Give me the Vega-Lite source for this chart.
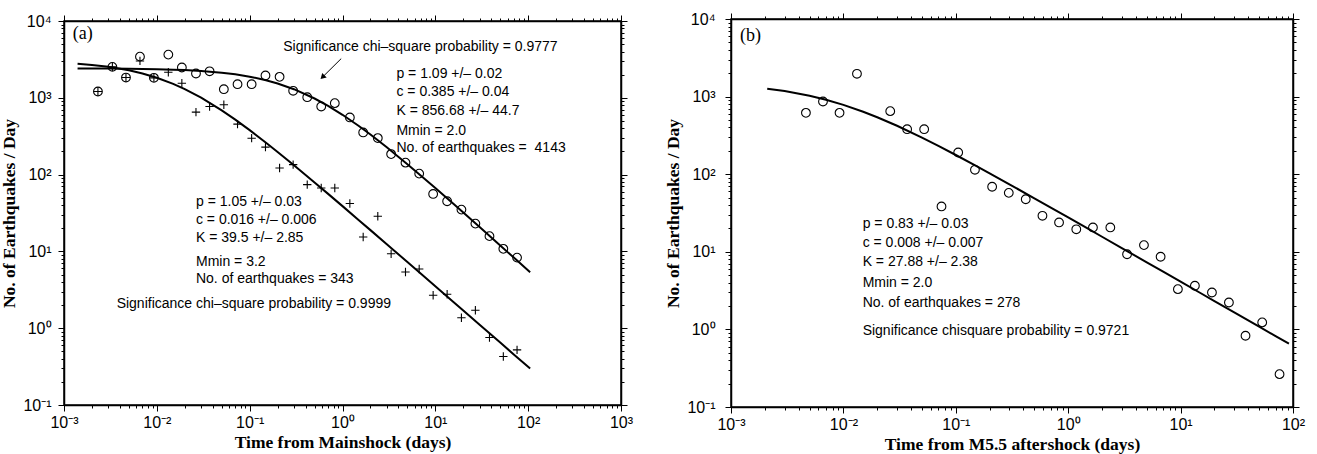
{
  "$schema": "https://vega.github.io/schema/vega-lite/v6.json",
  "padding": {"left": 0, "top": 10, "right": 0, "bottom": 0},
  "background": "white",
  "spacing": 110,
  "bounds": "flush",
  "center": true,
  "config": {
    "view": {"stroke": "black", "strokeWidth": 1.5},
    "axis": {
      "grid": false,
      "domainColor": "black",
      "domainWidth": 1.5,
      "tickColor": "black",
      "tickWidth": 1,
      "labelFont": "Liberation Sans",
      "labelFontSize": 16,
      "labelColor": "black",
      "labelOverlap": false,
      "labelFlush": false,
      "titleFont": "Liberation Serif",
      "titleFontWeight": "bold",
      "titleFontSize": 17.5,
      "titleColor": "black"
    }
  },
  "datasets": {
    "m20": [{"t":0.00232,"n":1208},{"t":0.00332,"n":2529},{"t":0.00465,"n":1836},{"t":0.00658,"n":3436},{"t":0.0093,"n":1820},{"t":0.0133,"n":3650},{"t":0.0186,"n":2478},{"t":0.0264,"n":2070},{"t":0.037,"n":2213},{"t":0.0527,"n":1294},{"t":0.074,"n":1503},{"t":0.105,"n":1503},{"t":0.148,"n":1950},{"t":0.21,"n":1875},{"t":0.294,"n":1233},{"t":0.417,"n":1018},{"t":0.59,"n":771},{"t":0.826,"n":851},{"t":1.2,"n":555},{"t":1.67,"n":354},{"t":2.4,"n":299},{"t":3.34,"n":185},{"t":4.77,"n":143},{"t":6.7,"n":103},{"t":9.47,"n":56},{"t":13.4,"n":45},{"t":19.1,"n":35},{"t":27,"n":23},{"t":38.3,"n":15.8},{"t":54,"n":10.8},{"t":75.9,"n":8.3}],
    "m32": [{"t":0.00232,"n":1208},{"t":0.00332,"n":2529},{"t":0.00465,"n":1836},{"t":0.00658,"n":3020},{"t":0.0093,"n":1820},{"t":0.0133,"n":2153},{"t":0.0186,"n":1549},{"t":0.0264,"n":650},{"t":0.037,"n":771},{"t":0.0527,"n":811},{"t":0.074,"n":454},{"t":0.105,"n":298},{"t":0.148,"n":228},{"t":0.21,"n":122},{"t":0.294,"n":135},{"t":0.417,"n":74},{"t":0.59,"n":67},{"t":0.826,"n":67},{"t":1.2,"n":42},{"t":1.67,"n":15.4},{"t":2.4,"n":28.7},{"t":3.34,"n":9.3},{"t":4.77,"n":5.4},{"t":6.7,"n":5.9},{"t":9.47,"n":2.69},{"t":13.4,"n":2.77},{"t":19.1,"n":1.37},{"t":27,"n":1.71},{"t":38.3,"n":0.755},{"t":54,"n":0.428},{"t":75.9,"n":0.522}],
    "m55": [{"t":0.00464,"n":618},{"t":0.00658,"n":865},{"t":0.00924,"n":618},{"t":0.0132,"n":1967},{"t":0.0261,"n":649},{"t":0.0369,"n":380},{"t":0.0523,"n":380},{"t":0.0746,"n":38.4},{"t":0.105,"n":190.5},{"t":0.148,"n":114},{"t":0.2105,"n":68.9},{"t":0.296,"n":57.5},{"t":0.419,"n":47.6},{"t":0.59,"n":29.1},{"t":0.829,"n":23.9},{"t":1.18,"n":19.5},{"t":1.66,"n":20.6},{"t":2.37,"n":20.6},{"t":3.34,"n":9.3},{"t":4.72,"n":12.2},{"t":6.64,"n":8.63},{"t":9.46,"n":3.3},{"t":13.4,"n":3.65},{"t":19,"n":2.99},{"t":26.9,"n":2.22},{"t":37.8,"n":0.828},{"t":53.2,"n":1.23},{"t":75.9,"n":0.265}],
    "fitA": [{"t":0.0014,"n":2413},{"t":0.002,"n":2411},{"t":0.003,"n":2404},{"t":0.005,"n":2391},{"t":0.007,"n":2378},{"t":0.01,"n":2358},{"t":0.015,"n":2326},{"t":0.02,"n":2295},{"t":0.03,"n":2234},{"t":0.05,"n":2123},{"t":0.07,"n":2021},{"t":0.1,"n":1885},{"t":0.15,"n":1694},{"t":0.2,"n":1537},{"t":0.3,"n":1294},{"t":0.5,"n":979},{"t":0.7,"n":784},{"t":1,"n":600.7},{"t":1.5,"n":429.3},{"t":2,"n":332.1},{"t":3,"n":226.8},{"t":5,"n":136.7},{"t":7,"n":96.9},{"t":10,"n":66.83},{"t":15,"n":43.54},{"t":20,"n":32.04},{"t":30,"n":20.73},{"t":50,"n":11.95},{"t":70,"n":8.3},{"t":105,"n":5.34}],
    "fitB": [{"t":0.0014,"n":2780},{"t":0.002,"n":2683},{"t":0.003,"n":2535},{"t":0.005,"n":2282},{"t":0.007,"n":2074},{"t":0.01,"n":1823},{"t":0.015,"n":1516},{"t":0.02,"n":1296},{"t":0.03,"n":1002},{"t":0.05,"n":685.7},{"t":0.07,"n":519.2},{"t":0.1,"n":379.2},{"t":0.15,"n":260.3},{"t":0.2,"n":197.4},{"t":0.3,"n":132.4},{"t":0.5,"n":79.1},{"t":0.7,"n":56.1},{"t":1,"n":38.85},{"t":1.5,"n":25.52},{"t":2,"n":18.92},{"t":3,"n":12.4},{"t":5,"n":7.265},{"t":7,"n":5.107},{"t":10,"n":3.514},{"t":15,"n":2.297},{"t":20,"n":1.699},{"t":30,"n":1.11},{"t":50,"n":0.65},{"t":70,"n":0.456},{"t":105,"n":0.298}],
    "fitC": [{"t":0.0021,"n":1264},{"t":0.003,"n":1177},{"t":0.005,"n":1025},{"t":0.007,"n":910},{"t":0.01,"n":782},{"t":0.015,"n":638},{"t":0.02,"n":542},{"t":0.03,"n":420.8},{"t":0.05,"n":296.3},{"t":0.07,"n":231.7},{"t":0.1,"n":176.8},{"t":0.15,"n":128.9},{"t":0.2,"n":102.6},{"t":0.3,"n":74.1},{"t":0.5,"n":48.9},{"t":0.7,"n":37.13},{"t":1,"n":27.7},{"t":1.5,"n":19.83},{"t":2,"n":15.63},{"t":3,"n":11.18},{"t":5,"n":7.32},{"t":7,"n":5.54},{"t":10,"n":4.12},{"t":15,"n":2.945},{"t":20,"n":2.319},{"t":30,"n":1.656},{"t":50,"n":1.084},{"t":70,"n":0.82},{"t":92,"n":0.654}]
  },
  "hconcat": [
    {
      "width": 557,
      "height": 384,
      "data": {"values": [{}]},
      "resolve": {"axis": {"x": "independent", "y": "independent"}},
      "layer": [
        {
          "data": {"name": "fitA"},
          "mark": {"type": "line", "color": "black", "strokeWidth": 2},
          "encoding": {
            "x": {"field": "t", "type": "quantitative", "scale": {"type": "log", "domain": [0.001, 1000], "nice": false},
              "axis": {"orient": "bottom", "title": "Time from Mainshock (days)", "titlePadding": 3, "labelPadding": 3,
                "values": [0.001,0.002,0.003,0.004,0.005,0.006,0.007,0.008,0.009,0.01,0.02,0.03,0.04,0.05,0.06,0.07,0.08,0.09,0.1,0.2,0.3,0.4,0.5,0.6,0.7,0.8,0.9,1,2,3,4,5,6,7,8,9,10,20,30,40,50,60,70,80,90,100,200,300,400,500,600,700,800,900,1000],
                "labelExpr": "abs(log(datum.value)/LN10 - round(log(datum.value)/LN10)) > 0.001 ? '' : ['10⁻³','10⁻²','10⁻¹','10⁰','10¹','10²','10³','10⁴'][round(log(datum.value)/LN10)+3]",
                "tickSize": {"condition": {"test": "abs(log(datum.value)/LN10 - round(log(datum.value)/LN10)) < 0.001", "value": 6}, "value": 3}}},
            "y": {"field": "n", "type": "quantitative", "scale": {"type": "log", "domain": [0.1, 10000], "nice": false},
              "axis": {"orient": "left", "title": "No. of Earthquakes / Day", "titlePadding": 4, "labelPadding": 7,
                "values": [0.1,0.2,0.3,0.4,0.5,0.6,0.7,0.8,0.9,1,2,3,4,5,6,7,8,9,10,20,30,40,50,60,70,80,90,100,200,300,400,500,600,700,800,900,1000,2000,3000,4000,5000,6000,7000,8000,9000,10000],
                "labelExpr": "abs(log(datum.value)/LN10 - round(log(datum.value)/LN10)) > 0.001 ? '' : ['10⁻³','10⁻²','10⁻¹','10⁰','10¹','10²','10³','10⁴'][round(log(datum.value)/LN10)+3]",
                "tickSize": {"condition": {"test": "abs(log(datum.value)/LN10 - round(log(datum.value)/LN10)) < 0.001", "value": 6}, "value": 3}}}
          }
        },
        {
          "data": {"name": "fitB"},
          "mark": {"type": "line", "color": "black", "strokeWidth": 2},
          "encoding": {
            "x": {"field": "t", "type": "quantitative", "scale": {"type": "log", "domain": [0.001, 1000], "nice": false},
              "axis": {"orient": "top", "title": null, "labels": false,
                "values": [0.001,0.002,0.003,0.004,0.005,0.006,0.007,0.008,0.009,0.01,0.02,0.03,0.04,0.05,0.06,0.07,0.08,0.09,0.1,0.2,0.3,0.4,0.5,0.6,0.7,0.8,0.9,1,2,3,4,5,6,7,8,9,10,20,30,40,50,60,70,80,90,100,200,300,400,500,600,700,800,900,1000],
                "tickSize": {"condition": {"test": "abs(log(datum.value)/LN10 - round(log(datum.value)/LN10)) < 0.001", "value": 6}, "value": 3}}},
            "y": {"field": "n", "type": "quantitative", "scale": {"type": "log", "domain": [0.1, 10000], "nice": false},
              "axis": {"orient": "right", "title": null, "labels": false,
                "values": [0.1,0.2,0.3,0.4,0.5,0.6,0.7,0.8,0.9,1,2,3,4,5,6,7,8,9,10,20,30,40,50,60,70,80,90,100,200,300,400,500,600,700,800,900,1000,2000,3000,4000,5000,6000,7000,8000,9000,10000],
                "tickSize": {"condition": {"test": "abs(log(datum.value)/LN10 - round(log(datum.value)/LN10)) < 0.001", "value": 6}, "value": 3}}}
          }
        },
        {
          "data": {"name": "m20"},
          "mark": {"type": "point", "shape": "circle", "filled": false, "color": "black", "size": 76, "strokeWidth": 1.1, "opacity": 1},
          "encoding": {
            "x": {"field": "t", "type": "quantitative", "scale": {"type": "log", "domain": [0.001, 1000], "nice": false}, "axis": null},
            "y": {"field": "n", "type": "quantitative", "scale": {"type": "log", "domain": [0.1, 10000], "nice": false}, "axis": null}
          }
        },
        {
          "data": {"name": "m32"},
          "mark": {"type": "point", "shape": "M-1,0L1,0M0,-1L0,1", "filled": false, "color": "black", "size": 70, "strokeWidth": 1.1, "opacity": 1},
          "encoding": {
            "x": {"field": "t", "type": "quantitative", "scale": {"type": "log", "domain": [0.001, 1000], "nice": false}, "axis": null},
            "y": {"field": "n", "type": "quantitative", "scale": {"type": "log", "domain": [0.1, 10000], "nice": false}, "axis": null}
          }
        },
        {
          "mark": {"type": "rule", "color": "black", "strokeWidth": 1},
          "encoding": {
            "x": {"datum": 0.968, "type": "quantitative", "scale": {"type": "log", "domain": [0.001, 1000], "nice": false}, "axis": null},
            "y": {"datum": 3236, "type": "quantitative", "scale": {"type": "log", "domain": [0.1, 10000], "nice": false}, "axis": null},
            "x2": {"datum": 0.609},
            "y2": {"datum": 1858}
          }
        },
        {
          "mark": {"type": "point", "shape": "triangle-down", "angle": 45, "filled": true, "color": "black", "size": 40, "opacity": 1},
          "encoding": {
            "x": {"datum": 0.609, "type": "quantitative", "scale": {"type": "log", "domain": [0.001, 1000], "nice": false}, "axis": null},
            "y": {"datum": 1858, "type": "quantitative", "scale": {"type": "log", "domain": [0.1, 10000], "nice": false}, "axis": null}
          }
        },
        {"mark": {"type": "text", "align": "left", "baseline": "middle", "font": "Liberation Serif", "fontSize": 18, "color": "black", "text": "(a)"},
         "encoding": {"x": {"datum": 0.00124, "type": "quantitative", "scale": {"type": "log", "domain": [0.001, 1000], "nice": false}, "axis": null},
                      "y": {"datum": 6780, "type": "quantitative", "scale": {"type": "log", "domain": [0.1, 10000], "nice": false}, "axis": null}}},
        {"mark": {"type": "text", "align": "left", "baseline": "middle", "font": "Liberation Sans", "fontSize": 14, "color": "black", "text": "Significance chi–square probability = 0.9777"},
         "encoding": {"x": {"datum": 0.23, "type": "quantitative", "scale": {"type": "log", "domain": [0.001, 1000], "nice": false}, "axis": null},
                      "y": {"datum": 4550, "type": "quantitative", "scale": {"type": "log", "domain": [0.1, 10000], "nice": false}, "axis": null}}},
        {"mark": {"type": "text", "align": "left", "baseline": "middle", "font": "Liberation Sans", "fontSize": 14, "color": "black", "text": "p = 1.09 +/– 0.02"},
         "encoding": {"x": {"datum": 3.81, "type": "quantitative", "scale": {"type": "log", "domain": [0.001, 1000], "nice": false}, "axis": null},
                      "y": {"datum": 2051, "type": "quantitative", "scale": {"type": "log", "domain": [0.1, 10000], "nice": false}, "axis": null}}},
        {"mark": {"type": "text", "align": "left", "baseline": "middle", "font": "Liberation Sans", "fontSize": 14, "color": "black", "text": "c = 0.385 +/– 0.04"},
         "encoding": {"x": {"datum": 3.81, "type": "quantitative", "scale": {"type": "log", "domain": [0.001, 1000], "nice": false}, "axis": null},
                      "y": {"datum": 1179, "type": "quantitative", "scale": {"type": "log", "domain": [0.1, 10000], "nice": false}, "axis": null}}},
        {"mark": {"type": "text", "align": "left", "baseline": "middle", "font": "Liberation Sans", "fontSize": 14, "color": "black", "text": "K = 856.68 +/– 44.7"},
         "encoding": {"x": {"datum": 3.81, "type": "quantitative", "scale": {"type": "log", "domain": [0.001, 1000], "nice": false}, "axis": null},
                      "y": {"datum": 678, "type": "quantitative", "scale": {"type": "log", "domain": [0.1, 10000], "nice": false}, "axis": null}}},
        {"mark": {"type": "text", "align": "left", "baseline": "middle", "font": "Liberation Sans", "fontSize": 14, "color": "black", "text": "Mmin = 2.0"},
         "encoding": {"x": {"datum": 3.81, "type": "quantitative", "scale": {"type": "log", "domain": [0.001, 1000], "nice": false}, "axis": null},
                      "y": {"datum": 367, "type": "quantitative", "scale": {"type": "log", "domain": [0.1, 10000], "nice": false}, "axis": null}}},
        {"mark": {"type": "text", "align": "left", "baseline": "middle", "font": "Liberation Sans", "fontSize": 14, "color": "black", "text": "No. of earthquakes =\u00a0 4143"},
         "encoding": {"x": {"datum": 3.81, "type": "quantitative", "scale": {"type": "log", "domain": [0.001, 1000], "nice": false}, "axis": null},
                      "y": {"datum": 224, "type": "quantitative", "scale": {"type": "log", "domain": [0.1, 10000], "nice": false}, "axis": null}}},
        {"mark": {"type": "text", "align": "left", "baseline": "middle", "font": "Liberation Sans", "fontSize": 14, "color": "black", "text": "p = 1.05 +/– 0.03"},
         "encoding": {"x": {"datum": 0.0264, "type": "quantitative", "scale": {"type": "log", "domain": [0.001, 1000], "nice": false}, "axis": null},
                      "y": {"datum": 43.6, "type": "quantitative", "scale": {"type": "log", "domain": [0.1, 10000], "nice": false}, "axis": null}}},
        {"mark": {"type": "text", "align": "left", "baseline": "middle", "font": "Liberation Sans", "fontSize": 14, "color": "black", "text": "c = 0.016 +/– 0.006"},
         "encoding": {"x": {"datum": 0.0264, "type": "quantitative", "scale": {"type": "log", "domain": [0.001, 1000], "nice": false}, "axis": null},
                      "y": {"datum": 25.3, "type": "quantitative", "scale": {"type": "log", "domain": [0.1, 10000], "nice": false}, "axis": null}}},
        {"mark": {"type": "text", "align": "left", "baseline": "middle", "font": "Liberation Sans", "fontSize": 14, "color": "black", "text": "K = 39.5 +/– 2.85"},
         "encoding": {"x": {"datum": 0.0264, "type": "quantitative", "scale": {"type": "log", "domain": [0.001, 1000], "nice": false}, "axis": null},
                      "y": {"datum": 14.9, "type": "quantitative", "scale": {"type": "log", "domain": [0.1, 10000], "nice": false}, "axis": null}}},
        {"mark": {"type": "text", "align": "left", "baseline": "middle", "font": "Liberation Sans", "fontSize": 14, "color": "black", "text": "Mmin = 3.2"},
         "encoding": {"x": {"datum": 0.0264, "type": "quantitative", "scale": {"type": "log", "domain": [0.001, 1000], "nice": false}, "axis": null},
                      "y": {"datum": 7.26, "type": "quantitative", "scale": {"type": "log", "domain": [0.1, 10000], "nice": false}, "axis": null}}},
        {"mark": {"type": "text", "align": "left", "baseline": "middle", "font": "Liberation Sans", "fontSize": 14, "color": "black", "text": "No. of earthquakes = 343"},
         "encoding": {"x": {"datum": 0.0264, "type": "quantitative", "scale": {"type": "log", "domain": [0.001, 1000], "nice": false}, "axis": null},
                      "y": {"datum": 4.33, "type": "quantitative", "scale": {"type": "log", "domain": [0.1, 10000], "nice": false}, "axis": null}}},
        {"mark": {"type": "text", "align": "left", "baseline": "middle", "font": "Liberation Sans", "fontSize": 14, "color": "black", "text": "Significance chi–square probability = 0.9999"},
         "encoding": {"x": {"datum": 0.00369, "type": "quantitative", "scale": {"type": "log", "domain": [0.001, 1000], "nice": false}, "axis": null},
                      "y": {"datum": 2.09, "type": "quantitative", "scale": {"type": "log", "domain": [0.1, 10000], "nice": false}, "axis": null}}}
      ]
    },
    {
      "width": 562,
      "height": 388,
      "data": {"values": [{}]},
      "resolve": {"axis": {"x": "independent", "y": "independent"}},
      "layer": [
        {
          "data": {"name": "fitC"},
          "mark": {"type": "line", "color": "black", "strokeWidth": 2},
          "encoding": {
            "x": {"field": "t", "type": "quantitative", "scale": {"type": "log", "domain": [0.001, 100], "nice": false},
              "axis": {"orient": "bottom", "title": "Time from M5.5 aftershock (days)", "titlePadding": 3, "labelPadding": 3,
                "values": [0.001,0.002,0.003,0.004,0.005,0.006,0.007,0.008,0.009,0.01,0.02,0.03,0.04,0.05,0.06,0.07,0.08,0.09,0.1,0.2,0.3,0.4,0.5,0.6,0.7,0.8,0.9,1,2,3,4,5,6,7,8,9,10,20,30,40,50,60,70,80,90,100],
                "labelExpr": "abs(log(datum.value)/LN10 - round(log(datum.value)/LN10)) > 0.001 ? '' : ['10⁻³','10⁻²','10⁻¹','10⁰','10¹','10²','10³','10⁴'][round(log(datum.value)/LN10)+3]",
                "tickSize": {"condition": {"test": "abs(log(datum.value)/LN10 - round(log(datum.value)/LN10)) < 0.001", "value": 6}, "value": 3}}},
            "y": {"field": "n", "type": "quantitative", "scale": {"type": "log", "domain": [0.1, 10000], "nice": false},
              "axis": {"orient": "left", "title": "No. of Earthquakes / Day", "titlePadding": 4, "labelPadding": 10,
                "values": [0.1,0.2,0.3,0.4,0.5,0.6,0.7,0.8,0.9,1,2,3,4,5,6,7,8,9,10,20,30,40,50,60,70,80,90,100,200,300,400,500,600,700,800,900,1000,2000,3000,4000,5000,6000,7000,8000,9000,10000],
                "labelExpr": "abs(log(datum.value)/LN10 - round(log(datum.value)/LN10)) > 0.001 ? '' : ['10⁻³','10⁻²','10⁻¹','10⁰','10¹','10²','10³','10⁴'][round(log(datum.value)/LN10)+3]",
                "tickSize": {"condition": {"test": "abs(log(datum.value)/LN10 - round(log(datum.value)/LN10)) < 0.001", "value": 6}, "value": 3}}}
          }
        },
        {
          "data": {"name": "m55"},
          "mark": {"type": "point", "shape": "circle", "filled": false, "color": "black", "size": 76, "strokeWidth": 1.1, "opacity": 1},
          "encoding": {
            "x": {"field": "t", "type": "quantitative", "scale": {"type": "log", "domain": [0.001, 100], "nice": false},
              "axis": {"orient": "top", "title": null, "labels": false,
                "values": [0.001,0.002,0.003,0.004,0.005,0.006,0.007,0.008,0.009,0.01,0.02,0.03,0.04,0.05,0.06,0.07,0.08,0.09,0.1,0.2,0.3,0.4,0.5,0.6,0.7,0.8,0.9,1,2,3,4,5,6,7,8,9,10,20,30,40,50,60,70,80,90,100],
                "tickSize": {"condition": {"test": "abs(log(datum.value)/LN10 - round(log(datum.value)/LN10)) < 0.001", "value": 6}, "value": 3}}},
            "y": {"field": "n", "type": "quantitative", "scale": {"type": "log", "domain": [0.1, 10000], "nice": false},
              "axis": {"orient": "right", "title": null, "labels": false,
                "values": [0.1,0.2,0.3,0.4,0.5,0.6,0.7,0.8,0.9,1,2,3,4,5,6,7,8,9,10,20,30,40,50,60,70,80,90,100,200,300,400,500,600,700,800,900,1000,2000,3000,4000,5000,6000,7000,8000,9000,10000],
                "tickSize": {"condition": {"test": "abs(log(datum.value)/LN10 - round(log(datum.value)/LN10)) < 0.001", "value": 6}, "value": 3}}}
          }
        },
        {"mark": {"type": "text", "align": "left", "baseline": "middle", "font": "Liberation Serif", "fontSize": 18, "color": "black", "text": "(b)"},
         "encoding": {"x": {"datum": 0.0012, "type": "quantitative", "scale": {"type": "log", "domain": [0.001, 100], "nice": false}, "axis": null},
                      "y": {"datum": 5990, "type": "quantitative", "scale": {"type": "log", "domain": [0.1, 10000], "nice": false}, "axis": null}}},
        {"mark": {"type": "text", "align": "left", "baseline": "middle", "font": "Liberation Sans", "fontSize": 14, "color": "black", "text": "p = 0.83 +/– 0.03"},
         "encoding": {"x": {"datum": 0.01483, "type": "quantitative", "scale": {"type": "log", "domain": [0.001, 100], "nice": false}, "axis": null},
                      "y": {"datum": 23.0, "type": "quantitative", "scale": {"type": "log", "domain": [0.1, 10000], "nice": false}, "axis": null}}},
        {"mark": {"type": "text", "align": "left", "baseline": "middle", "font": "Liberation Sans", "fontSize": 14, "color": "black", "text": "c = 0.008 +/– 0.007"},
         "encoding": {"x": {"datum": 0.01483, "type": "quantitative", "scale": {"type": "log", "domain": [0.001, 100], "nice": false}, "axis": null},
                      "y": {"datum": 12.97, "type": "quantitative", "scale": {"type": "log", "domain": [0.1, 10000], "nice": false}, "axis": null}}},
        {"mark": {"type": "text", "align": "left", "baseline": "middle", "font": "Liberation Sans", "fontSize": 14, "color": "black", "text": "K = 27.88 +/– 2.38"},
         "encoding": {"x": {"datum": 0.01483, "type": "quantitative", "scale": {"type": "log", "domain": [0.001, 100], "nice": false}, "axis": null},
                      "y": {"datum": 7.33, "type": "quantitative", "scale": {"type": "log", "domain": [0.1, 10000], "nice": false}, "axis": null}}},
        {"mark": {"type": "text", "align": "left", "baseline": "middle", "font": "Liberation Sans", "fontSize": 14, "color": "black", "text": "Mmin = 2.0"},
         "encoding": {"x": {"datum": 0.01483, "type": "quantitative", "scale": {"type": "log", "domain": [0.001, 100], "nice": false}, "axis": null},
                      "y": {"datum": 3.96, "type": "quantitative", "scale": {"type": "log", "domain": [0.1, 10000], "nice": false}, "axis": null}}},
        {"mark": {"type": "text", "align": "left", "baseline": "middle", "font": "Liberation Sans", "fontSize": 14, "color": "black", "text": "No. of earthquakes = 278"},
         "encoding": {"x": {"datum": 0.01483, "type": "quantitative", "scale": {"type": "log", "domain": [0.001, 100], "nice": false}, "axis": null},
                      "y": {"datum": 2.19, "type": "quantitative", "scale": {"type": "log", "domain": [0.1, 10000], "nice": false}, "axis": null}}},
        {"mark": {"type": "text", "align": "left", "baseline": "middle", "font": "Liberation Sans", "fontSize": 14, "color": "black", "text": "Significance chisquare probability = 0.9721"},
         "encoding": {"x": {"datum": 0.01483, "type": "quantitative", "scale": {"type": "log", "domain": [0.001, 100], "nice": false}, "axis": null},
                      "y": {"datum": 0.965, "type": "quantitative", "scale": {"type": "log", "domain": [0.1, 10000], "nice": false}, "axis": null}}}
      ]
    }
  ]
}
